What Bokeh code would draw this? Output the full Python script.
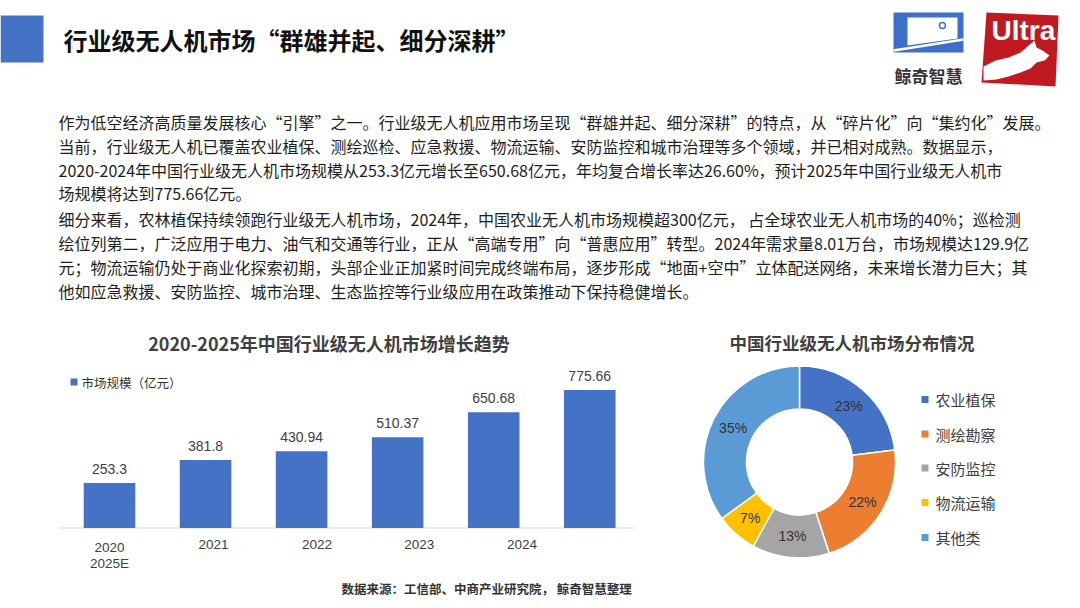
import numpy as np
from bokeh.plotting import figure
from bokeh.models import Range1d
from bokeh.layouts import column, row
from bokeh.core.properties import value
from bokeh.embed import file_html
from bokeh.resources import INLINE

CJK = "Noto Sans CJK SC"
NUM = "Liberation Sans"

# ---------------- data ----------------
page_title = "行业级无人机市场“群雄并起、细分深耕”"
para_lines = [
    "作为低空经济高质量发展核心“引擎”之一。行业级无人机应用市场呈现“群雄并起、细分深耕”的特点，从“碎片化”向“集约化”发展。",
    "当前，行业级无人机已覆盖农业植保、测绘巡检、应急救援、物流运输、安防监控和城市治理等多个领域，并已相对成熟。数据显示，",
    "2020-2024年中国行业级无人机市场规模从253.3亿元增长至650.68亿元，年均复合增长率达26.60%，预计2025年中国行业级无人机市",
    "场规模将达到775.66亿元。",
    "细分来看，农林植保持续领跑行业级无人机市场，2024年，中国农业无人机市场规模超300亿元， 占全球农业无人机市场的40%；巡检测",
    "绘位列第二，广泛应用于电力、油气和交通等行业，正从“高端专用”向“普惠应用”转型。2024年需求量8.01万台，市场规模达129.9亿",
    "元；物流运输仍处于商业化探索初期，头部企业正加紧时间完成终端布局，逐步形成“地面+空中”立体配送网络，未来增长潜力巨大；其",
    "他如应急救援、安防监控、城市治理、生态监控等行业级应用在政策推动下保持稳健增长。",
]
logo_text = "鲸奇智慧"
logo2_text = "Ultra"

bar_title = "2020-2025年中国行业级无人机市场增长趋势"
bar_series = "市场规模（亿元）"
years = ["2020", "2021", "2022", "2023", "2024", "2025E"]
market_size = [253.3, 381.8, 430.94, 510.37, 650.68, 775.66]
value_labels = ["253.3", "381.8", "430.94", "510.37", "650.68", "775.66"]
x_tick_labels = ["2020\n2025E", "2021", "2022", "2023", "2024"]
source_text = "数据来源：工信部、中商产业研究院， 鲸奇智慧整理"

pie_title = "中国行业级无人机市场分布情况"
segments = ["农业植保", "测绘勘察", "安防监控", "物流运输", "其他类"]
shares = [23, 22, 13, 7, 35]
share_labels = ["23%", "22%", "13%", "7%", "35%"]

# ---------------- styles / layout ----------------
BLUE = "#4472C4"
seg_colors = ["#4472C4", "#ED7D31", "#A5A5A5", "#FFC000", "#5B9BD5"]
DARK = "#404040"
PAGE_W, HEAD_H, BOT_H = 1072, 310, 290


def canvas(w, h, xr, yr):
    p = figure(width=w, height=h, x_range=xr, y_range=yr,
               output_backend="svg", toolbar_location=None,
               x_axis_location=None, y_axis_location=None, min_border=0)
    p.grid.visible = False
    p.outline_line_color = None
    p.background_fill_color = "white"
    p.border_fill_color = "white"
    return p


# ---------- header (pixel frame) ----------
hp = canvas(PAGE_W, HEAD_H, Range1d(0, PAGE_W), Range1d(HEAD_H, 0))
hp.quad(left=[0], right=[43], top=[15], bottom=[62], color=BLUE, line_color=None)
hp.text(x=[63], y=[39], text=[page_title], text_font=value(CJK), text_font_size="24px",
        text_font_style="bold", text_baseline="middle", text_color="#111111")

line_y = [121, 145, 169, 192, 218, 242, 266, 290]
hp.text(x=[58] * len(para_lines), y=line_y, text=para_lines, text_font=value(CJK),
        text_font_size="16px", text_baseline="middle", text_color="#1e1e1e")

# logo 1
LB = "#3d6fca"
hp.quad(left=[893], right=[963], top=[12], bottom=[52], color=LB, line_color=None)
hp.patch(x=[907, 957, 957, 907], y=[17, 17, 38, 45], color="white", line_color=None)
hp.line(x=[893, 963], y=[50, 39], line_color="white", line_width=2.5)
hp.scatter(x=[942], y=[25], size=6, marker="circle", fill_color="white",
           line_color=LB, line_width=1.5)
hp.text(x=[928], y=[75], text=[logo_text], text_font=value(CJK), text_font_size="17px",
        text_font_style="bold", text_align="center", text_baseline="middle", text_color="#333333")
# logo 2
hp.patch(x=[986, 1058, 1055, 981], y=[12, 15, 86, 82], color="#c01a20", line_color=None)
hp.text(x=[991], y=[30], text=[logo2_text], text_font=value(NUM), text_font_size="28px",
        text_font_style="bold", text_baseline="middle", text_color="white")
hp.patch(x=[983, 995, 1008, 1020, 1028, 1034, 1036, 1042, 1049, 1044, 1036, 1030, 1020, 1008, 996, 983],
         y=[66, 60, 57, 52, 45, 40, 47, 50, 55, 60, 62, 68, 72, 76, 79, 80],
         color="white", line_color=None)

# ---------- bar chart ----------
BW = 640
X0_PX, Y0_PX = 0, HEAD_H
first_center_px = 109
px_per_cat = 96.05
baseline_px = 527.5
px_per_unit = 0.178
x_start = -(first_center_px - X0_PX) / px_per_cat
x_end = x_start + BW / px_per_cat
y_start = -(Y0_PX + BOT_H - baseline_px) / px_per_unit
y_end = (baseline_px - Y0_PX) / px_per_unit

bp = canvas(BW, BOT_H, Range1d(x_start, x_end), Range1d(y_start, y_end))
bp.extra_x_ranges = {"px": Range1d(X0_PX, X0_PX + BW)}
bp.extra_y_ranges = {"px": Range1d(Y0_PX + BOT_H, Y0_PX)}

idx = list(range(len(years)))
bp.segment(x0=[x_start + 58 / px_per_cat], x1=[x_start + 634 / px_per_cat], y0=[0], y1=[0],
           line_color="#d9d9d9", line_width=1)
bp.vbar(x=idx, top=market_size, bottom=0, width=0.537, color=BLUE, line_color=None)
bp.text(x=idx, y=market_size, text=value_labels, y_offset=-14, text_align="center",
        text_baseline="middle", text_font=value(NUM), text_font_size="14px", text_color=DARK)

tick_pos = [0, 1.082, 2.161, 3.226, 4.294]
bp.text(x=tick_pos, y=[0] * len(tick_pos), text=x_tick_labels, y_offset=12, text_align="center",
        text_baseline="top", text_line_height=1.05, text_font=value(NUM),
        text_font_size="13.5px", text_color=DARK)

bp.text(x=[328.5], y=[342], text=[bar_title], x_range_name="px", y_range_name="px",
        text_font=value(CJK), text_font_size="18px", text_font_style="bold",
        text_align="center", text_baseline="middle", text_color=DARK)
bp.rect(x=[73.5], y=[381.5], width=7, height=7, x_range_name="px", y_range_name="px",
        color=BLUE, line_color=None)
bp.text(x=[81], y=[382], text=[bar_series], x_range_name="px", y_range_name="px",
        text_font=value(CJK), text_font_size="12.5px", text_baseline="middle", text_color="#333333")
bp.text(x=[341], y=[588], text=[source_text], x_range_name="px", y_range_name="px",
        text_font=value(CJK), text_font_size="12.5px", text_font_style="bold",
        text_baseline="middle", text_color="#333333")

# ---------- donut ----------
DW = PAGE_W - BW
dp = canvas(DW, BOT_H, Range1d(BW, PAGE_W), Range1d(-(Y0_PX + BOT_H), -Y0_PX))
cx, cy = 799, -461.5
r_in, r_out = 53, 96
fr = np.array(shares, dtype=float) / sum(shares)
cum = np.concatenate([[0], np.cumsum(fr)])
starts = np.pi / 2 - cum[:-1] * 2 * np.pi
ends = np.pi / 2 - cum[1:] * 2 * np.pi
dp.annular_wedge(x=cx, y=cy, inner_radius=r_in, outer_radius=r_out,
                 start_angle=starts, end_angle=ends, direction="clock",
                 fill_color=seg_colors, line_color="white", line_width=1.5)
mid = (starts + ends) / 2
r_mid = (r_in + r_out) / 2
dp.text(x=cx + r_mid * np.cos(mid), y=cy + r_mid * np.sin(mid), text=share_labels,
        text_align="center", text_baseline="middle", text_font=value(NUM),
        text_font_size="14px", text_color="#333333")
dp.text(x=[851.5], y=[-342], text=[pie_title], text_font=value(CJK), text_font_size="17.5px",
        text_font_style="bold", text_align="center", text_baseline="middle", text_color=DARK)

leg_y = -np.array([399, 433.5, 467.5, 502, 537])
dp.rect(x=[924.5] * len(segments), y=leg_y, width=7, height=7, fill_color=seg_colors, line_color=None)
dp.text(x=[935] * len(segments), y=leg_y, text=segments, text_font=value(CJK),
        text_font_size="15px", text_baseline="middle", text_color=DARK)

layout = column(hp, row(bp, dp))
open("out.html", "w").write(file_html(layout, INLINE))
